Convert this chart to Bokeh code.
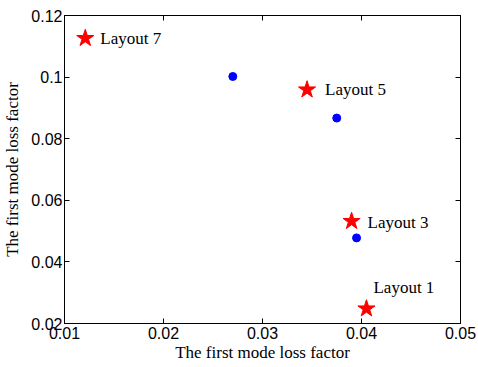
from bokeh.plotting import figure
from bokeh.models import LinearAxis, FixedTicker, Range1d, ColumnDataSource
from bokeh.core.properties import value
from bokeh.embed import file_html
from bokeh.resources import INLINE

# Data
layout_names = ["Layout 1", "Layout 3", "Layout 5", "Layout 7"]
layout_x = [0.0405, 0.0390, 0.0345, 0.0121]
layout_y = [0.0248, 0.0532, 0.0959, 0.1126]
dot_x = [0.0270, 0.0375, 0.0395]
dot_y = [0.1002, 0.0867, 0.0478]

x_ticks = [0.01, 0.02, 0.03, 0.04, 0.05]
x_tick_labels = ["0.01", "0.02", "0.03", "0.04", "0.05"]
y_ticks = [0.02, 0.04, 0.06, 0.08, 0.10, 0.12]
y_tick_labels = ["0.02", "0.04", "0.06", "0.08", "0.1", "0.12"]

label_dx = [7, 16, 18, 15]
label_dy = [-21, 1, 0, 0]

p = figure(width=478, height=367, output_backend="svg", toolbar_location=None,
           x_range=Range1d(0.01, 0.05), y_range=Range1d(0.02, 0.12),
           frame_width=396, frame_height=308,
           min_border_left=63, min_border_right=19, min_border_top=15, min_border_bottom=44)
p.xgrid.visible = False
p.ygrid.visible = False
p.outline_line_color = "black"
p.outline_line_width = 1
p.background_fill_color = "white"
p.border_fill_color = "white"

serif = "Liberation Serif"
sans = "Liberation Sans"

def style_axis(ax, ticks, labels, show_labels=True):
    ax.ticker = FixedTicker(ticks=ticks)
    if show_labels:
        ax.major_label_overrides = {t: l for t, l in zip(ticks, labels)}
    else:
        ax.major_label_overrides = {t: "" for t in ticks}
        ax.major_label_standoff = 0
    ax.major_tick_in = 5
    ax.major_tick_out = 0
    ax.minor_tick_in = 0
    ax.minor_tick_out = 0
    ax.axis_line_color = "black"
    ax.major_tick_line_color = "black"
    ax.major_label_text_font = sans
    ax.major_label_text_font_size = "16px"
    ax.major_label_text_color = "black"

xa = p.xaxis[0]
ya = p.yaxis[0]
style_axis(xa, x_ticks, x_tick_labels)
style_axis(ya, y_ticks, y_tick_labels)
xa.major_label_standoff = 3
ya.major_label_standoff = 2
xa.axis_label = "The first mode loss factor"
ya.axis_label = "The first mode loss factor"
for ax in (xa, ya):
    ax.axis_label_text_font = serif
    ax.axis_label_text_font_size = "17px"
    ax.axis_label_text_font_style = "normal"
    ax.axis_label_text_color = "black"
xa.axis_label_standoff = 1
ya.axis_label_standoff = 6

top = LinearAxis()
right = LinearAxis()
style_axis(top, x_ticks, x_tick_labels, show_labels=False)
style_axis(right, y_ticks, y_tick_labels, show_labels=False)
p.add_layout(top, "above")
p.add_layout(right, "right")

src = ColumnDataSource(dict(x=layout_x, y=layout_y, name=layout_names, dx=label_dx, dy=label_dy))
p.scatter(dot_x, dot_y, marker="circle", size=8, fill_color="#0000ff", line_color="#0000ff")
p.scatter("x", "y", source=src, marker="star", size=18, fill_color="#ff0000", line_color="#ff0000")
p.text("x", "y", text="name", source=src, x_offset="dx", y_offset="dy",
       text_font=value(serif), text_font_size="17px", text_color="black",
       text_baseline="middle", text_align="left")

open("out.html", "w").write(file_html(p, INLINE))
